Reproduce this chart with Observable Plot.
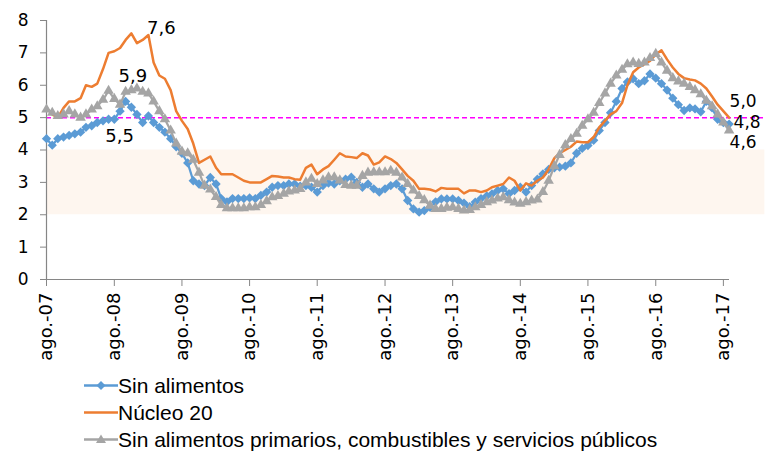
<!DOCTYPE html>
<html>
<head>
<meta charset="utf-8">
<script src="https://cdn.jsdelivr.net/npm/d3@7"></script>
<script src="https://cdn.jsdelivr.net/npm/@observablehq/plot@0.6"></script>
<style>
  html, body { margin: 0; padding: 0; background: #fff; }
  #chart svg { display: block; overflow: visible; }
  #legend { margin-left: 82px; font-family: "Liberation Sans", Arial, sans-serif; font-size: 21px; color: #000; }
  .row { display: flex; align-items: center; height: 27px; }
  .row svg { width: 36px; height: 27px; flex: none; }
</style>
</head>
<body>
<div id="chart"></div>
<div id="legend"></div>
<script>
// Monthly series, starting August 2007
const startYear = 2007, startMonth = 7;

const sinAlimentos = [
  4.35, 4.15, 4.35, 4.4, 4.45, 4.5, 4.55, 4.7, 4.75, 4.85, 4.9, 4.95,
  4.95, 5.2, 5.5, 5.32, 5.1, 4.85, 5.05, 4.85, 4.7, 4.55, 4.35, 4.1,
  3.9, 3.6, 3.05, 2.95, 2.9, 3.15, 2.95, 2.5, 2.4, 2.5, 2.5, 2.5,
  2.52, 2.5, 2.6, 2.7, 2.85, 2.9, 2.9, 2.95, 2.95, 2.88, 2.9, 2.85,
  2.7, 2.9, 2.98, 2.95, 3.05, 3.1, 3.16, 3.0, 2.85, 2.95, 2.8, 2.7,
  2.8, 2.9, 2.95, 2.8, 2.44, 2.18, 2.08, 2.13, 2.23, 2.4, 2.49, 2.49,
  2.49, 2.44, 2.36, 2.25, 2.39, 2.5, 2.58, 2.64, 2.75, 2.8, 2.65, 2.75,
  2.85, 2.7, 2.9, 3.1, 3.26, 3.4, 3.45, 3.47, 3.5, 3.6, 3.9, 4.05,
  4.14, 4.3, 4.6, 4.85, 5.15, 5.5, 5.9, 6.1, 6.2, 6.05, 6.14, 6.35,
  6.22, 6.05, 5.85, 5.6, 5.4, 5.22, 5.3, 5.27, 5.18, 5.5, 5.3, 4.95,
  4.85, 4.8
];

const nucleo20 = [
  5.3, 5.1, 5.0, 5.3, 5.5, 5.5, 5.6, 6.0, 5.95, 6.05, 6.5, 7.0,
  7.05, 7.15, 7.4, 7.6, 7.3, 7.4, 7.55, 6.7, 6.3, 6.2, 5.85, 5.2,
  4.9, 4.65, 4.2, 3.6, 3.7, 3.8, 3.45, 3.25, 3.25, 3.25, 3.15, 3.05,
  3.0, 3.0, 3.0, 3.1, 3.2, 3.18, 3.15, 3.15, 3.1, 3.08, 3.45, 3.55,
  3.25, 3.4, 3.5, 3.7, 3.9, 3.8, 3.78, 3.75, 3.9, 3.83, 3.55, 3.62,
  3.8, 3.72, 3.6, 3.4, 3.2, 3.05, 2.8, 2.8, 2.78, 2.72, 2.83, 2.8,
  2.8, 2.8, 2.66, 2.75, 2.75, 2.7, 2.75, 2.85, 2.9, 2.95, 3.15, 3.05,
  2.75, 2.97, 2.9, 3.05, 3.15, 3.4, 3.75, 3.9, 4.0, 4.1, 4.26, 4.24,
  4.24, 4.4, 4.7, 4.9, 5.1, 5.2, 5.45, 6.0, 6.4, 6.55, 6.65, 6.75,
  6.95, 7.08, 6.8, 6.55, 6.35, 6.22, 6.18, 6.15, 6.05, 5.9, 5.65, 5.4,
  5.2, 5.0
];

const sinPrimarios = [
  5.25, 5.15, 5.05, 5.1, 5.2, 5.1, 5.0, 5.1, 5.25, 5.35, 5.55, 5.83,
  5.58, 5.4, 5.8, 5.85, 5.9, 5.8, 5.75, 5.5, 5.2, 4.95, 4.6, 4.2,
  3.95, 3.9, 3.7, 3.3, 2.9, 2.78, 2.55, 2.3, 2.2, 2.2, 2.2, 2.2,
  2.23, 2.23, 2.3, 2.42, 2.54, 2.58, 2.65, 2.72, 2.75, 2.8, 3.0, 3.11,
  2.95, 3.06, 3.16, 3.16, 3.06, 2.92, 2.9, 2.9, 3.2, 3.3, 3.31, 3.31,
  3.31, 3.36, 3.3, 3.15, 2.95, 2.75, 2.58, 2.45, 2.28, 2.18, 2.18, 2.22,
  2.23, 2.18, 2.13, 2.15, 2.23, 2.3, 2.39, 2.44, 2.5, 2.54, 2.45, 2.38,
  2.34, 2.39, 2.44, 2.47, 2.7, 3.05, 3.5, 3.85, 4.15, 4.34, 4.5, 4.75,
  4.95, 5.15, 5.45, 5.75, 6.05, 6.3, 6.48, 6.65, 6.7, 6.66, 6.7, 6.84,
  6.97, 6.7, 6.45, 6.22, 6.12, 6.05, 5.95, 5.85, 5.72, 5.52, 5.35, 5.1,
  4.85, 4.6
];

const tickLabels = ["ago.-07","ago.-08","ago.-09","ago.-10","ago.-11","ago.-12","ago.-13","ago.-14","ago.-15","ago.-16","ago.-17"];
const seriesNames = ["Sin alimentos", "Núcleo 20", "Sin alimentos primarios, combustibles y servicios públicos"];
const yTicks = [0, 1, 2, 3, 4, 5, 6, 7, 8];
const targetBand = [2, 4];
const referenceLevel = 5;

const colors = ["#5b9bd5", "#ed7d31", "#a5a5a5"];

const DAY = 864e5;
const dateOf = i => new Date(Date.UTC(startYear, startMonth + i, 1));
const toRows = (vals, s) => vals.map((v, i) => ({date: dateOf(i), value: v, series: s}));
const blueRows = toRows(sinAlimentos, seriesNames[0]);
const orangeRows = toRows(nucleo20, seriesNames[1]);
const grayRows = toRows(sinPrimarios, seriesNames[2]);

const n = sinAlimentos.length;
const xStart = dateOf(0);
const xEnd = new Date(+dateOf(n - 1) + 2 * DAY);
const bandEnd = new Date(+dateOf(n + 5) + 12 * DAY);
const tickDates = tickLabels.map((_, k) => dateOf(12 * k));
const labelByTime = new Map(tickDates.map((d, k) => [+d, tickLabels[k]]));

const fmt = v => v.toFixed(1).replace(".", ",");
const early = rows => [d3.greatest(rows.slice(0, 30), d => d.value)];
const last = rows => [rows[rows.length - 1]];

const tickFont = "DejaVu Sans, sans-serif";

const chart = Plot.plot({
  width: 765,
  height: 372,
  marginLeft: 46,
  marginRight: 36,
  marginTop: 20,
  marginBottom: 93,
  x: {type: "utc", domain: [xStart, xEnd]},
  y: {domain: [0, 8]},
  style: {fontFamily: tickFont, color: "#000", background: "#fff", overflow: "visible"},
  marks: [
    Plot.rect([{x1: xStart, x2: bandEnd, y1: targetBand[0], y2: targetBand[1]}],
      {x1: "x1", x2: "x2", y1: "y1", y2: "y2", fill: "#fef6ef"}),
    Plot.ruleY([referenceLevel], {x1: xStart, x2: bandEnd, stroke: "#ff00ff", strokeWidth: 1.5, strokeDasharray: "5,3"}),
    Plot.ruleX([xStart], {y1: 0, y2: 8, stroke: "#868686", strokeWidth: 1.2}),
    Plot.ruleY([0], {x1: xStart, x2: xEnd, stroke: "#868686", strokeWidth: 1.2}),
    Plot.axisY({ticks: yTicks, tickSize: 6, tickPadding: 12, stroke: "#868686", fill: "#000", fontSize: 17, label: null, tickFormat: d => String(d)}),
    Plot.axisX({ticks: tickDates, tickSize: 7, tickPadding: 6, tickRotate: -90, stroke: "#868686", fill: "#000", fontSize: 18, label: null,
      tickFormat: d => labelByTime.get(+d), letterSpacing: "1.2px"}),
    // Sin alimentos
    Plot.line(blueRows, {x: "date", y: "value", stroke: colors[0], strokeWidth: 2.25}),
    Plot.dot(blueRows, {x: "date", y: "value", symbol: "diamond2", r: 4.2, fill: colors[0], stroke: "none"}),
    // Núcleo 20
    Plot.line(orangeRows, {x: "date", y: "value", stroke: colors[1], strokeWidth: 2.5}),
    // Sin alimentos primarios...
    Plot.line(grayRows, {x: "date", y: "value", stroke: colors[2], strokeWidth: 2.25}),
    Plot.dot(grayRows, {x: "date", y: "value", symbol: "triangle", r: 3.9, fill: colors[2], stroke: "none"}),
    // data labels
    Plot.text(early(orangeRows), {x: "date", y: "value", text: d => fmt(d.value), dx: 30, dy: -5, fontSize: 18, fill: "#000"}),
    Plot.text(early(grayRows), {x: "date", y: "value", text: d => fmt(d.value), dx: -4, dy: -12, fontSize: 18, fill: "#000"}),
    Plot.text(early(blueRows), {x: "date", y: "value", text: d => fmt(d.value), dx: -6, dy: 35, fontSize: 18, fill: "#000"}),
    Plot.text(last(orangeRows), {x: "date", y: "value", text: d => fmt(d.value), dx: 14, dy: -16, fontSize: 17, fill: "#000"}),
    Plot.text(last(blueRows), {x: "date", y: "value", text: d => fmt(d.value), dx: 18, dy: -2, fontSize: 17, fill: "#000"}),
    Plot.text(last(grayRows), {x: "date", y: "value", text: d => fmt(d.value), dx: 14, dy: 12, fontSize: 17, fill: "#000"})
  ]
});
document.getElementById("chart").append(chart);

// Legend
const swatches = [
  c => `<line x1="2" y1="13.5" x2="36" y2="13.5" stroke="${c}" stroke-width="2.5"/><path d="M19,9 L23.5,13.5 L19,18 L14.5,13.5 Z" fill="${c}"/>`,
  c => `<line x1="2" y1="13.5" x2="36" y2="13.5" stroke="${c}" stroke-width="2.5"/>`,
  c => `<line x1="2" y1="13.5" x2="36" y2="13.5" stroke="${c}" stroke-width="2.5"/><path d="M19,8.5 L24,17 L14,17 Z" fill="${c}"/>`
];
const legend = document.getElementById("legend");
seriesNames.forEach((name, i) => {
  const row = document.createElement("div");
  row.className = "row";
  row.innerHTML = `<svg viewBox="0 0 36 27">${swatches[i](colors[i])}</svg><span>${name}</span>`;
  legend.append(row);
});
</script>
</body>
</html>
